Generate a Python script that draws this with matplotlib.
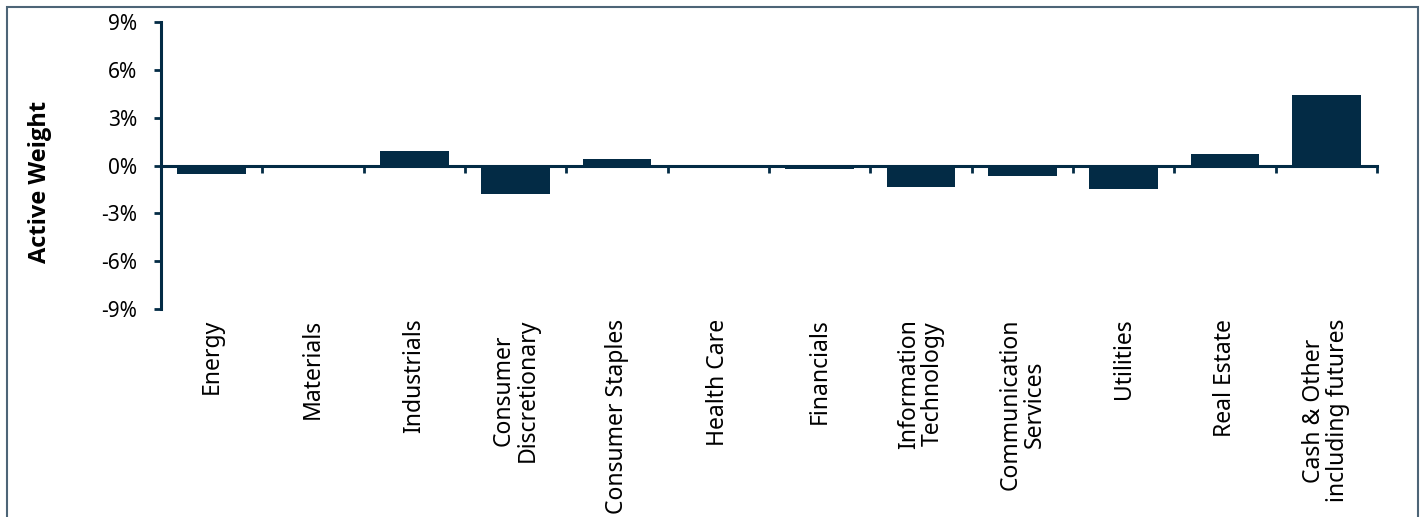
import matplotlib
matplotlib.use('agg')
import matplotlib.pyplot as plt
from matplotlib.patches import Rectangle
import numpy as np

sectors = ['Energy', 'Materials', 'Industrials', 'Consumer\nDiscretionary',
           'Consumer Staples', 'Health Care', 'Financials', 'Information\nTechnology',
           'Communication\nServices', 'Utilities', 'Real Estate',
           'Cash & Other\nincluding futures']
active_weight = [-0.55, -0.03, 0.93, -1.8, 0.42, -0.12, -0.22, -1.35, -0.65, -1.5, 0.75, 4.4]
y_ticks = [-9, -6, -3, 0, 3, 6, 9]

bar_color = '#032b45'
plt.rcParams['font.family'] = ['Noto Sans', 'DejaVu Sans']

fig = plt.figure(figsize=(14.2, 5.17), dpi=100)
ax = fig.add_axes([0.1134, 0.4023, 0.8563, 0.5551])

x = np.arange(len(sectors))
ax.bar(x, active_weight, width=0.68, color=bar_color, zorder=2)

ax.set_xlim(-0.5, len(sectors) - 0.5)
ax.set_ylim(-9, 9)
ax.set_yticks(y_ticks)
ax.set_yticklabels([f'{v}%' for v in y_ticks], fontsize=15)
ax.set_ylabel('Active Weight', fontsize=17, fontweight='bold',
              family=['Open Sans', 'DejaVu Sans'])
ax.yaxis.set_label_coords(-0.0895, 0.444)

for s in ['top', 'right']:
    ax.spines[s].set_visible(False)
ax.spines['left'].set_linewidth(2.2)
ax.spines['left'].set_color(bar_color)
ax.spines['bottom'].set_position(('data', 0))
ax.spines['bottom'].set_linewidth(2.2)
ax.spines['bottom'].set_color(bar_color)
ax.tick_params(axis='y', length=5, width=2, color=bar_color, pad=12)

# boundary ticks on the zero line
ax.set_xticks(np.arange(len(sectors) + 1) - 0.5)
ax.set_xticklabels([])
ax.tick_params(axis='x', length=5, width=2, color=bar_color, direction='out')

# category labels under the plot area
sec = ax.secondary_xaxis('bottom')
sec.set_xticks(x)
sec.set_xticklabels(sectors, rotation=90, fontsize=16.5, va='top', ha='center',
                    multialignment='center', linespacing=1.0)
sec.tick_params(length=0, pad=7)
sec.spines['bottom'].set_visible(False)

# outer frame
fig.patches.append(Rectangle((7 / 1420, -0.1), 1411 / 1420, 1.1 - 7 / 517,
                             transform=fig.transFigure, fill=False,
                             edgecolor='#4d6577', linewidth=1.5))

fig.savefig('out.png', dpi=100)
